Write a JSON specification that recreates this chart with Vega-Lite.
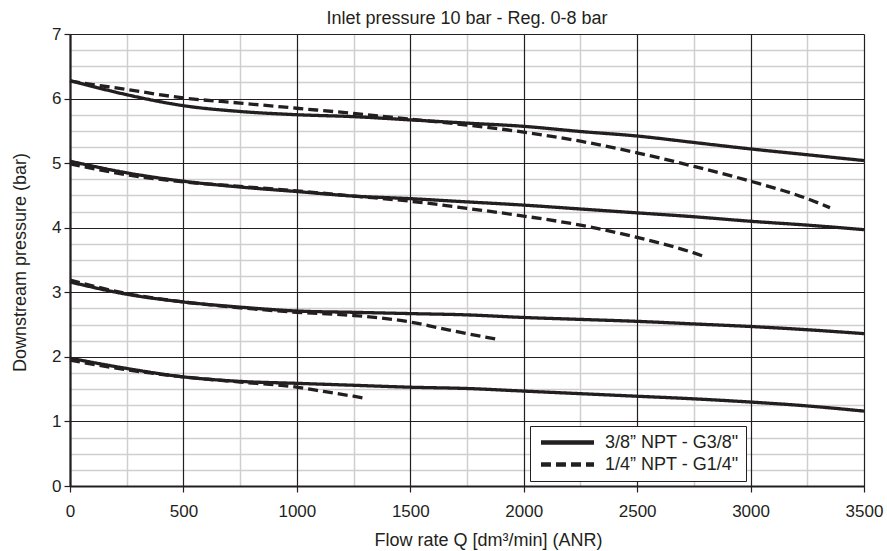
{
  "$schema": "https://vega.github.io/schema/vega-lite/v6.json",
  "width": 794,
  "height": 452,
  "autosize": {"type": "none"},
  "padding": {"left": 70, "top": 34, "right": 23, "bottom": 65},
  "background": "white",
  "config": {
    "font": "Liberation Sans",
    "view": {"stroke": null},
    "axis": {"labelFlush": false, "labelOverlap": false}
  },
  "title": {
    "text": "Inlet pressure 10 bar - Reg. 0-8 bar",
    "fontSize": 18,
    "fontWeight": "normal",
    "color": "#231f20",
    "anchor": "middle",
    "frame": "group",
    "baseline": "alphabetic",
    "offset": -17
  },
  "data": {
    "values": [
      {"q": 0, "p": 6.28, "fit": "3/8” NPT - G3/8\"", "set": "6"},
      {"q": 250, "p": 6.06, "fit": "3/8” NPT - G3/8\"", "set": "6"},
      {"q": 500, "p": 5.89, "fit": "3/8” NPT - G3/8\"", "set": "6"},
      {"q": 750, "p": 5.80, "fit": "3/8” NPT - G3/8\"", "set": "6"},
      {"q": 1000, "p": 5.75, "fit": "3/8” NPT - G3/8\"", "set": "6"},
      {"q": 1250, "p": 5.72, "fit": "3/8” NPT - G3/8\"", "set": "6"},
      {"q": 1500, "p": 5.67, "fit": "3/8” NPT - G3/8\"", "set": "6"},
      {"q": 1750, "p": 5.62, "fit": "3/8” NPT - G3/8\"", "set": "6"},
      {"q": 2000, "p": 5.57, "fit": "3/8” NPT - G3/8\"", "set": "6"},
      {"q": 2250, "p": 5.49, "fit": "3/8” NPT - G3/8\"", "set": "6"},
      {"q": 2500, "p": 5.42, "fit": "3/8” NPT - G3/8\"", "set": "6"},
      {"q": 2750, "p": 5.32, "fit": "3/8” NPT - G3/8\"", "set": "6"},
      {"q": 3000, "p": 5.22, "fit": "3/8” NPT - G3/8\"", "set": "6"},
      {"q": 3250, "p": 5.13, "fit": "3/8” NPT - G3/8\"", "set": "6"},
      {"q": 3500, "p": 5.04, "fit": "3/8” NPT - G3/8\"", "set": "6"},

      {"q": 0, "p": 6.27, "fit": "1/4” NPT - G1/4\"", "set": "6"},
      {"q": 250, "p": 6.14, "fit": "1/4” NPT - G1/4\"", "set": "6"},
      {"q": 500, "p": 6.01, "fit": "1/4” NPT - G1/4\"", "set": "6"},
      {"q": 750, "p": 5.93, "fit": "1/4” NPT - G1/4\"", "set": "6"},
      {"q": 1000, "p": 5.85, "fit": "1/4” NPT - G1/4\"", "set": "6"},
      {"q": 1250, "p": 5.77, "fit": "1/4” NPT - G1/4\"", "set": "6"},
      {"q": 1500, "p": 5.68, "fit": "1/4” NPT - G1/4\"", "set": "6"},
      {"q": 1750, "p": 5.59, "fit": "1/4” NPT - G1/4\"", "set": "6"},
      {"q": 2000, "p": 5.48, "fit": "1/4” NPT - G1/4\"", "set": "6"},
      {"q": 2250, "p": 5.34, "fit": "1/4” NPT - G1/4\"", "set": "6"},
      {"q": 2500, "p": 5.16, "fit": "1/4” NPT - G1/4\"", "set": "6"},
      {"q": 2750, "p": 4.95, "fit": "1/4” NPT - G1/4\"", "set": "6"},
      {"q": 3000, "p": 4.72, "fit": "1/4” NPT - G1/4\"", "set": "6"},
      {"q": 3250, "p": 4.45, "fit": "1/4” NPT - G1/4\"", "set": "6"},
      {"q": 3350, "p": 4.31, "fit": "1/4” NPT - G1/4\"", "set": "6"},

      {"q": 0, "p": 5.03, "fit": "3/8” NPT - G3/8\"", "set": "5"},
      {"q": 250, "p": 4.85, "fit": "3/8” NPT - G3/8\"", "set": "5"},
      {"q": 500, "p": 4.72, "fit": "3/8” NPT - G3/8\"", "set": "5"},
      {"q": 750, "p": 4.63, "fit": "3/8” NPT - G3/8\"", "set": "5"},
      {"q": 1000, "p": 4.56, "fit": "3/8” NPT - G3/8\"", "set": "5"},
      {"q": 1250, "p": 4.49, "fit": "3/8” NPT - G3/8\"", "set": "5"},
      {"q": 1500, "p": 4.45, "fit": "3/8” NPT - G3/8\"", "set": "5"},
      {"q": 1750, "p": 4.40, "fit": "3/8” NPT - G3/8\"", "set": "5"},
      {"q": 2000, "p": 4.35, "fit": "3/8” NPT - G3/8\"", "set": "5"},
      {"q": 2250, "p": 4.29, "fit": "3/8” NPT - G3/8\"", "set": "5"},
      {"q": 2500, "p": 4.23, "fit": "3/8” NPT - G3/8\"", "set": "5"},
      {"q": 2750, "p": 4.17, "fit": "3/8” NPT - G3/8\"", "set": "5"},
      {"q": 3000, "p": 4.10, "fit": "3/8” NPT - G3/8\"", "set": "5"},
      {"q": 3250, "p": 4.04, "fit": "3/8” NPT - G3/8\"", "set": "5"},
      {"q": 3500, "p": 3.97, "fit": "3/8” NPT - G3/8\"", "set": "5"},

      {"q": 0, "p": 4.99, "fit": "1/4” NPT - G1/4\"", "set": "5"},
      {"q": 250, "p": 4.82, "fit": "1/4” NPT - G1/4\"", "set": "5"},
      {"q": 500, "p": 4.71, "fit": "1/4” NPT - G1/4\"", "set": "5"},
      {"q": 750, "p": 4.64, "fit": "1/4” NPT - G1/4\"", "set": "5"},
      {"q": 1000, "p": 4.57, "fit": "1/4” NPT - G1/4\"", "set": "5"},
      {"q": 1250, "p": 4.49, "fit": "1/4” NPT - G1/4\"", "set": "5"},
      {"q": 1500, "p": 4.41, "fit": "1/4” NPT - G1/4\"", "set": "5"},
      {"q": 1750, "p": 4.30, "fit": "1/4” NPT - G1/4\"", "set": "5"},
      {"q": 2000, "p": 4.18, "fit": "1/4” NPT - G1/4\"", "set": "5"},
      {"q": 2250, "p": 4.04, "fit": "1/4” NPT - G1/4\"", "set": "5"},
      {"q": 2500, "p": 3.85, "fit": "1/4” NPT - G1/4\"", "set": "5"},
      {"q": 2750, "p": 3.61, "fit": "1/4” NPT - G1/4\"", "set": "5"},
      {"q": 2800, "p": 3.55, "fit": "1/4” NPT - G1/4\"", "set": "5"},

      {"q": 0, "p": 3.16, "fit": "3/8” NPT - G3/8\"", "set": "3"},
      {"q": 250, "p": 2.97, "fit": "3/8” NPT - G3/8\"", "set": "3"},
      {"q": 500, "p": 2.85, "fit": "3/8” NPT - G3/8\"", "set": "3"},
      {"q": 750, "p": 2.77, "fit": "3/8” NPT - G3/8\"", "set": "3"},
      {"q": 1000, "p": 2.71, "fit": "3/8” NPT - G3/8\"", "set": "3"},
      {"q": 1250, "p": 2.69, "fit": "3/8” NPT - G3/8\"", "set": "3"},
      {"q": 1500, "p": 2.67, "fit": "3/8” NPT - G3/8\"", "set": "3"},
      {"q": 1750, "p": 2.65, "fit": "3/8” NPT - G3/8\"", "set": "3"},
      {"q": 2000, "p": 2.61, "fit": "3/8” NPT - G3/8\"", "set": "3"},
      {"q": 2250, "p": 2.58, "fit": "3/8” NPT - G3/8\"", "set": "3"},
      {"q": 2500, "p": 2.55, "fit": "3/8” NPT - G3/8\"", "set": "3"},
      {"q": 2750, "p": 2.51, "fit": "3/8” NPT - G3/8\"", "set": "3"},
      {"q": 3000, "p": 2.47, "fit": "3/8” NPT - G3/8\"", "set": "3"},
      {"q": 3250, "p": 2.42, "fit": "3/8” NPT - G3/8\"", "set": "3"},
      {"q": 3500, "p": 2.36, "fit": "3/8” NPT - G3/8\"", "set": "3"},

      {"q": 0, "p": 3.19, "fit": "1/4” NPT - G1/4\"", "set": "3"},
      {"q": 250, "p": 2.98, "fit": "1/4” NPT - G1/4\"", "set": "3"},
      {"q": 500, "p": 2.85, "fit": "1/4” NPT - G1/4\"", "set": "3"},
      {"q": 750, "p": 2.76, "fit": "1/4” NPT - G1/4\"", "set": "3"},
      {"q": 1000, "p": 2.69, "fit": "1/4” NPT - G1/4\"", "set": "3"},
      {"q": 1250, "p": 2.64, "fit": "1/4” NPT - G1/4\"", "set": "3"},
      {"q": 1375, "p": 2.60, "fit": "1/4” NPT - G1/4\"", "set": "3"},
      {"q": 1500, "p": 2.54, "fit": "1/4” NPT - G1/4\"", "set": "3"},
      {"q": 1625, "p": 2.45, "fit": "1/4” NPT - G1/4\"", "set": "3"},
      {"q": 1750, "p": 2.36, "fit": "1/4” NPT - G1/4\"", "set": "3"},
      {"q": 1890, "p": 2.27, "fit": "1/4” NPT - G1/4\"", "set": "3"},

      {"q": 0, "p": 1.98, "fit": "3/8” NPT - G3/8\"", "set": "2"},
      {"q": 250, "p": 1.82, "fit": "3/8” NPT - G3/8\"", "set": "2"},
      {"q": 500, "p": 1.69, "fit": "3/8” NPT - G3/8\"", "set": "2"},
      {"q": 750, "p": 1.62, "fit": "3/8” NPT - G3/8\"", "set": "2"},
      {"q": 1000, "p": 1.59, "fit": "3/8” NPT - G3/8\"", "set": "2"},
      {"q": 1250, "p": 1.56, "fit": "3/8” NPT - G3/8\"", "set": "2"},
      {"q": 1500, "p": 1.53, "fit": "3/8” NPT - G3/8\"", "set": "2"},
      {"q": 1750, "p": 1.51, "fit": "3/8” NPT - G3/8\"", "set": "2"},
      {"q": 2000, "p": 1.47, "fit": "3/8” NPT - G3/8\"", "set": "2"},
      {"q": 2250, "p": 1.43, "fit": "3/8” NPT - G3/8\"", "set": "2"},
      {"q": 2500, "p": 1.39, "fit": "3/8” NPT - G3/8\"", "set": "2"},
      {"q": 2750, "p": 1.35, "fit": "3/8” NPT - G3/8\"", "set": "2"},
      {"q": 3000, "p": 1.30, "fit": "3/8” NPT - G3/8\"", "set": "2"},
      {"q": 3250, "p": 1.24, "fit": "3/8” NPT - G3/8\"", "set": "2"},
      {"q": 3500, "p": 1.16, "fit": "3/8” NPT - G3/8\"", "set": "2"},

      {"q": 0, "p": 1.95, "fit": "1/4” NPT - G1/4\"", "set": "2"},
      {"q": 250, "p": 1.80, "fit": "1/4” NPT - G1/4\"", "set": "2"},
      {"q": 500, "p": 1.69, "fit": "1/4” NPT - G1/4\"", "set": "2"},
      {"q": 750, "p": 1.61, "fit": "1/4” NPT - G1/4\"", "set": "2"},
      {"q": 1000, "p": 1.53, "fit": "1/4” NPT - G1/4\"", "set": "2"},
      {"q": 1125, "p": 1.46, "fit": "1/4” NPT - G1/4\"", "set": "2"},
      {"q": 1250, "p": 1.39, "fit": "1/4” NPT - G1/4\"", "set": "2"},
      {"q": 1300, "p": 1.36, "fit": "1/4” NPT - G1/4\"", "set": "2"}
    ]
  },
  "layer": [
    {
      "mark": {"type": "point", "opacity": 0},
      "encoding": {
        "x": {
          "field": "q", "type": "quantitative",
          "scale": {"domain": [0, 3500], "nice": false, "zero": false},
          "axis": {
            "orient": "bottom",
            "values": [250, 750, 1250, 1750, 2250, 2750, 3250],
            "grid": true, "gridColor": "#cfcfcf", "gridWidth": 1.5,
            "domain": false, "ticks": false, "labels": false, "title": null,
            "zindex": 0
          }
        },
        "y": {
          "field": "p", "type": "quantitative",
          "scale": {"domain": [0, 7], "nice": false, "zero": false},
          "axis": {
            "orient": "left",
            "values": [0.25, 0.5, 0.75, 1.25, 1.5, 1.75, 2.25, 2.5, 2.75, 3.25, 3.5, 3.75, 4.25, 4.5, 4.75, 5.25, 5.5, 5.75, 6.25, 6.5, 6.75],
            "grid": true, "gridColor": "#cfcfcf", "gridWidth": 1.5,
            "domain": false, "ticks": false, "labels": false, "title": null,
            "zindex": 0
          }
        }
      }
    },
    {
      "mark": {"type": "line", "interpolate": "monotone", "strokeWidth": 3.3, "color": "#231f20", "strokeCap": "butt"},
      "encoding": {
        "x": {
          "field": "q", "type": "quantitative",
          "scale": {"domain": [0, 3500], "nice": false, "zero": false},
          "axis": {
            "orient": "bottom",
            "values": [0, 500, 1000, 1500, 2000, 2500, 3000, 3500],
            "format": "d",
            "grid": true, "gridColor": "#231f20", "gridWidth": 1.2,
            "domain": true, "domainColor": "#231f20", "domainWidth": 2.2,
            "ticks": true, "tickColor": "#231f20", "tickWidth": 1.2, "tickSize": 6,
            "labelFontSize": 17, "labelColor": "#231f20", "labelPadding": 11,
            "title": "Flow rate Q [dm³/min] (ANR)",
            "titleFontSize": 18, "titleFontWeight": "normal", "titleColor": "#231f20",
            "titleX": 418, "titleY": 59, "titleBaseline": "alphabetic", "titleAlign": "center",
            "zindex": 1
          }
        },
        "y": {
          "field": "p", "type": "quantitative",
          "scale": {"domain": [0, 7], "nice": false, "zero": false},
          "axis": {
            "orient": "left",
            "values": [0, 1, 2, 3, 4, 5, 6, 7],
            "format": "d",
            "grid": true, "gridColor": "#231f20", "gridWidth": 1.2,
            "domain": true, "domainColor": "#231f20", "domainWidth": 2.2,
            "ticks": true, "tickColor": "#231f20", "tickWidth": 1.2, "tickSize": 6,
            "labelFontSize": 17, "labelColor": "#231f20", "labelPadding": 3,
            "title": "Downstream pressure (bar)",
            "titleFontSize": 18, "titleFontWeight": "normal", "titleColor": "#231f20",
            "titleX": -45, "titleY": 228, "titleAngle": 270, "titleBaseline": "alphabetic", "titleAlign": "center",
            "zindex": 1
          }
        },
        "detail": {"field": "set"},
        "strokeDash": {
          "field": "fit", "type": "nominal",
          "scale": {"domain": ["3/8” NPT - G3/8\"", "1/4” NPT - G1/4\""], "range": [[1, 0], [10, 5]]},
          "legend": {
            "title": null,
            "orient": "none",
            "legendX": 460,
            "legendY": 392,
            "padding": 7,
            "fillColor": "white",
            "strokeColor": "#231f20",
            "symbolType": "M-3.79,0H3.79",
            "symbolSize": 196,
            "symbolStrokeWidth": 4.5,
            "symbolStrokeColor": "#231f20",
            "symbolFillColor": "transparent",
            "symbolOffset": 21,
            "labelOffset": 28,
            "labelFontSize": 18,
            "labelColor": "#231f20",
            "rowPadding": 3,
            "zindex": 2,
            "encode": {
              "symbols": {"update": {"strokeDash": {"signal": "datum.index === 1 ? [22, 8] : [1, 0]"}}}
            }
          }
        }
      }
    }
  ],
  "resolve": {"axis": {"x": "independent", "y": "independent"}}
}
